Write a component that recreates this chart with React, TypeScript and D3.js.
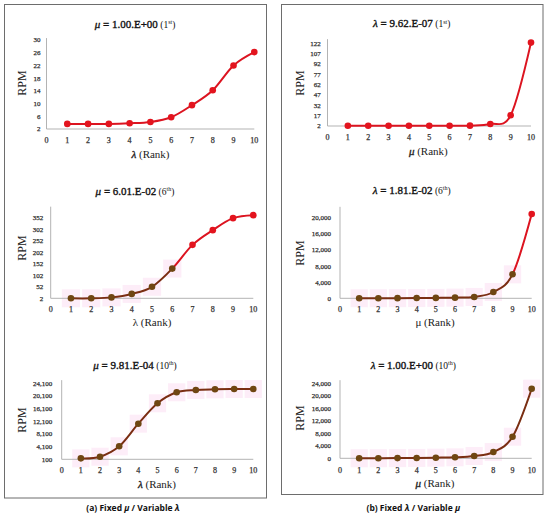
import React from 'react';
import * as d3 from 'd3';

// ---------- data ----------
const ranks = [1, 2, 3, 4, 5, 6, 7, 8, 9, 10];
const xTicks = [0, 1, 2, 3, 4, 5, 6, 7, 8, 9, 10];

const tlRPM = [3.6, 3.6, 3.6, 3.8, 4.2, 5.7, 9.5, 14.2, 22.0, 26.2];
const trRPM = [2.3, 2.3, 2.3, 2.3, 2.3, 2.3, 2.5, 4.8, 17.5, 123];
const mlRPM = [2, 2, 6, 21, 52, 131, 234, 298, 350, 363];
const mrRPM = [10, 20, 35, 60, 100, 160, 330, 1560, 5950, 20900];
const blRPM = [400, 920, 4200, 11350, 17800, 21270, 22000, 22200, 22300, 22300];
const brRPM = [20, 40, 70, 120, 200, 320, 740, 2000, 6900, 22270];

const tlYTicks = [2, 6, 10, 14, 18, 22, 26, 30];
const trYTicks = [2, 17, 32, 47, 62, 77, 92, 107, 122];
const mlYTicks = [2, 52, 102, 152, 202, 252, 302, 352];
const mrYTicks = [0, 4000, 8000, 12000, 16000, 20000];
const blYTicks = [100, 4100, 8100, 12100, 16100, 20100, 24100];
const brYTicks = [0, 4000, 8000, 12000, 16000, 20000, 24000];

const titles = [
  { sym: 'μ', val: '1.00.E+00', ordN: '1', ordS: 'st' },
  { sym: 'λ', val: '9.62.E-07', ordN: '1', ordS: 'st' },
  { sym: 'μ', val: '6.01.E-02', ordN: '6', ordS: 'th' },
  { sym: 'λ', val: '1.81.E-02', ordN: '6', ordS: 'th' },
  { sym: 'μ', val: '9.81.E-04', ordN: '10', ordS: 'th' },
  { sym: 'λ', val: '1.00.E+00', ordN: '10', ordS: 'th' },
];
const xAxisSyms = ['λ', 'μ', 'λ', 'μ', 'λ', 'μ'];
const xAxisItalic = [true, true, false, false, true, true];
const brownCounts = [0, 0, 6, 9, 10, 10];
const yMaxes = [30.6, 128, 400, 22700, 25100, 25000];
const captions = [
  { pre: '(a) Fixed ', a: 'μ', mid: ' / Variable ', b: 'λ' },
  { pre: '(b) Fixed ', a: 'λ', mid: ' / Variable ', b: 'μ' },
];

// ---------- layout ----------
interface Layout {
  x0: number; x10: number; yBot: number; yTopTick: number;
  tickY: number; labRight: number;
  titleX: number; titleY: number; xtX: number; xtY: number; rpmX: number; rpmY: number;
}
const layouts: Layout[] = [
  { x0: 46.5, x10: 254.3, yBot: 129, yTopTick: 40, tickY: 140, labRight: 40.5, titleX: 135, titleY: 24, xtX: 150.5, xtY: 154.3, rpmX: 21.7, rpmY: 83 },
  { x0: 327.5, x10: 531, yBot: 126, yTopTick: 43.3, tickY: 136.7, labRight: 320.7, titleX: 411.7, titleY: 23.3, xtX: 428.3, xtY: 150.7, rpmX: 300, rpmY: 83 },
  { x0: 50.7, x10: 253.3, yBot: 298.3, yTopTick: 217.7, tickY: 309.3, labRight: 43.3, titleX: 135, titleY: 191, xtX: 152, xtY: 321.7, rpmX: 21.7, rpmY: 248 },
  { x0: 340, x10: 531.7, yBot: 298.3, yTopTick: 217.7, tickY: 309.3, labRight: 331, titleX: 411.7, titleY: 190, xtX: 435, xtY: 321.7, rpmX: 300, rpmY: 253 },
  { x0: 61.7, x10: 253.3, yBot: 459.3, yTopTick: 383.3, tickY: 470, labRight: 52.3, titleX: 135, titleY: 365, xtX: 157, xtY: 484, rpmX: 21.7, rpmY: 420 },
  { x0: 340, x10: 531.7, yBot: 458.3, yTopTick: 383.3, tickY: 470, labRight: 331, titleX: 413.3, titleY: 365, xtX: 435, xtY: 483.3, rpmX: 300, rpmY: 418 },
];

const series = [tlRPM, trRPM, mlRPM, mrRPM, blRPM, brRPM];
const yTicksAll = [tlYTicks, trYTicks, mlYTicks, mrYTicks, blYTicks, brYTicks];

const RED = '#dc1420';
const RED_PT = '#e3141e';
const BROWN = '#7a2e12';
const BROWN_PT = '#6f4612';
const AXIS = '#b3b3b3';
const SERIF = '"Liberation Serif", "Times New Roman", serif';

function Chart({ i }: { i: number }) {
  const L = layouts[i];
  const data = series[i];
  const yTicks = yTicksAll[i];
  const x = d3.scaleLinear().domain([0, 10]).range([L.x0, L.x10]);
  const y = d3.scaleLinear().domain([yTicks[0], yTicks[yTicks.length - 1]]).range([L.yBot, L.yTopTick]);
  const pts: [number, number][] = ranks.map((r, k) => [x(r), y(data[k])]);
  const line = d3.line().curve(d3.curveCardinal.tension(0));
  const path = line(pts) || '';
  const nb = brownCounts[i];
  const fmt = d3.format(',');
  const t = titles[i];
  const clipB = `clipB${i}`;
  const clipR = `clipR${i}`;
  const splitX = nb > 0 ? x(ranks[nb - 1]) : 0;
  const unit = x(1) - x(0);
  return (
    <g>
      <defs>
        <clipPath id={clipB}>
          <rect x={0} y={0} width={splitX} height={521} />
        </clipPath>
        <clipPath id={clipR}>
          <rect x={splitX} y={0} width={600} height={521} />
        </clipPath>
      </defs>
      {pts.slice(0, nb).map((p, k) => (
        <rect key={k} x={p[0] - unit * 0.45} y={p[1] - 9} width={unit * 0.9} height={18} fill="#fce6f5" opacity={0.7} />
      ))}
      {/* axes */}
      <line x1={L.x0} x2={L.x0} y1={L.yBot} y2={y(yMaxes[i])} stroke={AXIS} strokeWidth={1} />
      <line x1={L.x0} x2={L.x10} y1={L.yBot} y2={L.yBot} stroke={AXIS} strokeWidth={1} />
      {yTicks.map((v) => (
        <text key={v} x={L.labRight} y={y(v)} dy="0.35em" textAnchor="end" fontFamily={SERIF} fontSize={7} stroke="#333" strokeWidth={0.25} fill="#333">
          {fmt(v)}
        </text>
      ))}
      {xTicks.map((v) => (
        <text key={v} x={x(v)} y={L.tickY} dy="0.35em" textAnchor="middle" fontFamily={SERIF} fontSize={8} stroke="#333" strokeWidth={0.25} fill="#333">
          {v}
        </text>
      ))}
      {/* line */}
      <path d={path} fill="none" stroke={RED} strokeWidth={2} clipPath={nb > 0 ? `url(#${clipR})` : undefined} />
      {nb > 0 && <path d={path} fill="none" stroke={BROWN} strokeWidth={2} clipPath={`url(#${clipB})`} />}
      {pts.map((p, k) => (
        <circle key={k} cx={p[0]} cy={p[1]} r={3.3} fill={k < nb ? BROWN_PT : RED_PT} />
      ))}
      {/* title */}
      <text x={L.titleX} y={L.titleY} dy="0.35em" textAnchor="middle" fontFamily={SERIF} fontSize={11} fill="#111">
        <tspan fontStyle="italic" stroke="#111" strokeWidth={0.35}>{t.sym}</tspan>
        <tspan stroke="#111" strokeWidth={0.35}>{' = ' + t.val}</tspan>
        <tspan fontSize={9.5}>{' ('}</tspan>
        <tspan fontSize={9.5}>{t.ordN}</tspan>
        <tspan fontSize={6} dy={-3.5}>{t.ordS}</tspan>
        <tspan fontSize={9.5} dy={3.5}>)</tspan>
      </text>
      {/* x title */}
      <text x={L.xtX} y={L.xtY} dy="0.35em" textAnchor="middle" fontFamily={SERIF} fontSize={11} fill="#222">
        <tspan fontStyle={xAxisItalic[i] ? 'italic' : 'normal'} stroke={xAxisItalic[i] ? '#222' : 'none'} strokeWidth={0.35}>{xAxisSyms[i]}</tspan>
        <tspan>{' (Rank)'}</tspan>
      </text>
      {/* y title */}
      <text transform={`translate(${L.rpmX},${L.rpmY}) rotate(-90)`} dy="0.35em" textAnchor="middle" fontFamily={SERIF} fontSize={12} fill="#222">
        RPM
      </text>
    </g>
  );
}

export default function App() {
  return (
    <svg width={550} height={521} style={{ position: 'absolute', left: 0, top: 0, background: '#fff' }}>
      <rect x={0} y={0} width={550} height={521} fill="#fff" />
      <rect x={4.5} y={4.5} width={262} height={493.5} fill="none" stroke="#6d6d6d" strokeWidth={1} />
      <rect x={281.5} y={4.5} width={261.5} height={490} fill="none" stroke="#6d6d6d" strokeWidth={1} />
      {layouts.map((_, i) => (
        <Chart key={i} i={i} />
      ))}
      {captions.map((c, k) => (
        <text key={k} x={k === 0 ? 133 : 413.3} y={508.5} dy="0.35em" textAnchor="middle" fontFamily='"Open Sans", "Liberation Sans", sans-serif' fontSize={8.5} fontWeight="bold" fill="#111">
          <tspan>{c.pre}</tspan>
          <tspan fontStyle="italic">{c.a}</tspan>
          <tspan>{c.mid}</tspan>
          <tspan fontStyle="italic">{c.b}</tspan>
        </text>
      ))}
    </svg>
  );
}
